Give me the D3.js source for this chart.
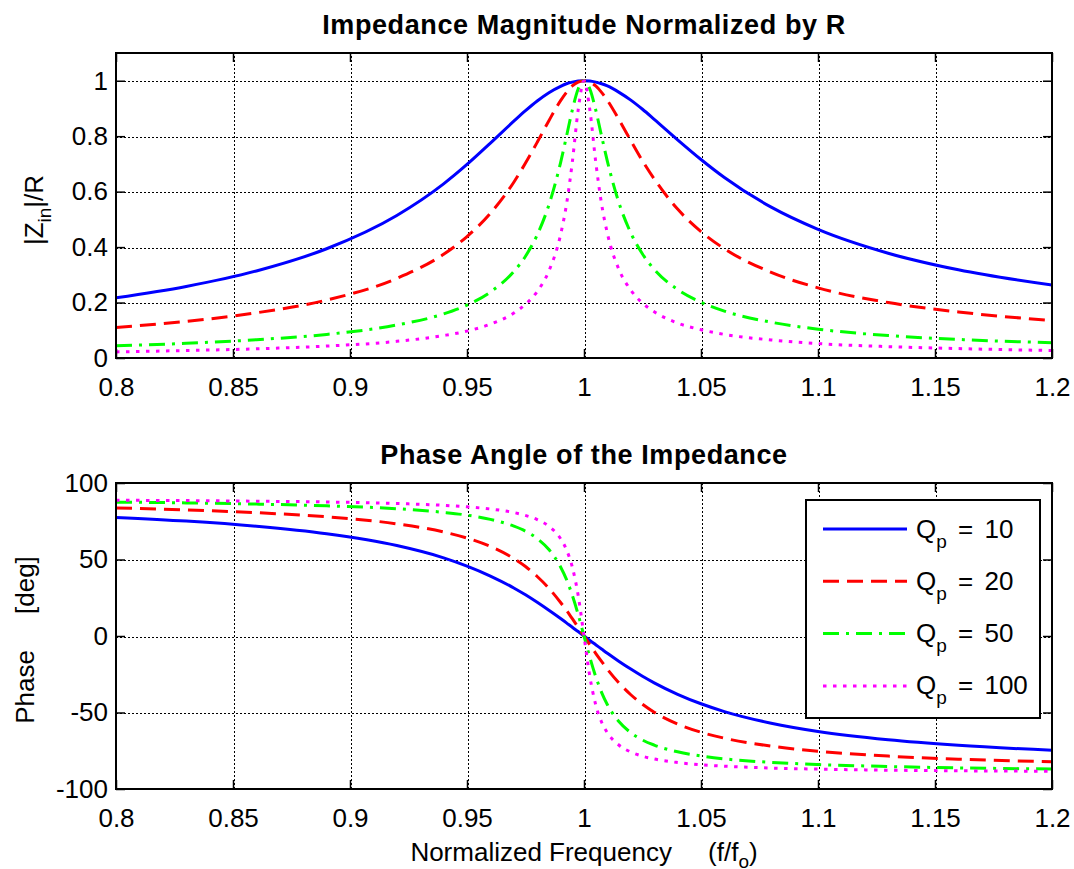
<!DOCTYPE html>
<html>
<head>
<meta charset="utf-8">
<script src="https://cdn.jsdelivr.net/npm/d3@7"></script>
<style>
  body { margin: 0; background: #fff; }
  text { font-family: "Liberation Sans", Arial, sans-serif; fill: #000; }
</style>
</head>
<body>
<div id="chart"></div>
<script>
// values
var freq = [0.80, 0.83, 0.86, 0.89, 0.92, 0.94, 0.95, 0.96, 0.97, 0.975, 0.98, 0.985, 0.99, 0.9925, 0.995, 0.9975,
            1.00, 1.0025, 1.005, 1.0075, 1.01, 1.015, 1.02, 1.025, 1.03, 1.04, 1.05, 1.06, 1.08, 1.10, 1.13, 1.16, 1.20];

var magQ10  = [0.217, 0.258, 0.314, 0.394, 0.514, 0.628, 0.698, 0.775, 0.854, 0.892, 0.927, 0.957, 0.980, 0.989, 0.995, 0.999,
               1.000, 0.999, 0.995, 0.989, 0.981, 0.958, 0.930, 0.897, 0.861, 0.787, 0.716, 0.651, 0.544, 0.464, 0.378, 0.318, 0.263];
var magQ20  = [0.110, 0.132, 0.163, 0.209, 0.287, 0.374, 0.438, 0.522, 0.634, 0.703, 0.778, 0.856, 0.928, 0.958, 0.981, 0.995,
               1.000, 0.995, 0.981, 0.958, 0.929, 0.859, 0.784, 0.711, 0.646, 0.537, 0.456, 0.394, 0.309, 0.253, 0.200, 0.166, 0.135];
var magQ50  = [0.044, 0.053, 0.066, 0.085, 0.119, 0.159, 0.191, 0.238, 0.312, 0.367, 0.444, 0.552, 0.705, 0.799, 0.894, 0.970,
               1.000, 0.970, 0.895, 0.801, 0.709, 0.558, 0.451, 0.375, 0.320, 0.247, 0.201, 0.169, 0.129, 0.104, 0.081, 0.067, 0.055];
var magQ100 = [0.022, 0.027, 0.033, 0.043, 0.060, 0.081, 0.097, 0.122, 0.162, 0.194, 0.240, 0.314, 0.445, 0.553, 0.706, 0.894,
               1.000, 0.895, 0.708, 0.556, 0.449, 0.318, 0.245, 0.198, 0.167, 0.126, 0.102, 0.085, 0.065, 0.052, 0.041, 0.034, 0.027];

var phaseQ10  = [77.5, 75.1, 71.7, 66.8, 59.1, 51.1, 45.7, 39.2, 31.4, 26.9, 22.0, 16.8, 11.4, 8.6, 5.7, 2.9,
                 0, -2.9, -5.7, -8.5, -11.3, -16.6, -21.6, -26.3, -30.6, -38.1, -44.3, -49.4, -57.0, -62.4, -67.8, -71.4, -74.7];
var phaseQ20  = [83.7, 82.4, 80.6, 77.9, 73.3, 68.0, 64.0, 58.5, 50.6, 45.4, 38.9, 31.2, 21.9, 16.8, 11.3, 5.7,
                 0, -5.7, -11.3, -16.6, -21.7, -30.8, -38.4, -44.6, -49.8, -57.5, -62.9, -66.8, -72.0, -75.3, -78.5, -80.5, -82.2];
var phaseQ50  = [87.5, 87.0, 86.2, 85.1, 83.2, 80.8, 79.0, 76.2, 71.8, 68.5, 63.7, 56.5, 45.1, 37.0, 26.6, 14.1,
                 0, -14.0, -26.5, -36.8, -44.9, -56.1, -63.2, -68.0, -71.3, -75.7, -78.4, -80.3, -82.6, -84.0, -85.3, -86.2, -86.9];
var phaseQ100 = [88.7, 88.5, 88.1, 87.6, 86.6, 85.4, 84.4, 83.0, 80.7, 78.8, 76.1, 71.7, 63.6, 56.4, 45.1, 26.6,
                 0, -26.5, -44.9, -56.2, -63.3, -71.4, -75.8, -78.6, -80.4, -82.7, -84.2, -85.1, -86.3, -87.0, -87.7, -88.1, -88.4];

var qValues = [10, 20, 50, 100];
var xTicks = [0.8, 0.85, 0.9, 0.95, 1, 1.05, 1.1, 1.15, 1.2];
var magTicks = [0, 0.2, 0.4, 0.6, 0.8, 1];
var phaseTicks = [-100, -50, 0, 50, 100];

var colors = ["#0000ff", "#ff0000", "#00ff00", "#ff00ff"];
var dashes = [null, "16,8", "16,7,3,7", "3.5,6.5"];

var W = 1074, H = 869;
var left = 116, right = 1052;
var fontSize = 26;

var svg = d3.select("#chart").append("svg")
    .attr("width", W)
    .attr("height", H)
    .style("background", "#fff");

var x = d3.scaleLinear().domain([0.8, 1.2]).range([left, right]);

function panel(top, bottom, yDomain, yTicks, title, series, id) {
  var y = d3.scaleLinear().domain(yDomain).range([bottom, top]);
  var h = bottom - top;
  var g = svg.append("g");

  function gridStyle(a) {
    a.select(".domain").remove();
    a.selectAll("line")
      .attr("stroke", "#000")
      .attr("stroke-width", 1)
      .attr("stroke-dasharray", "2,2")
      .attr("shape-rendering", "crispEdges");
  }

  // grid
  g.append("g")
      .attr("transform", "translate(0.5," + bottom + ")")
      .call(d3.axisBottom(x).tickValues(xTicks.slice(1, -1)).tickSizeInner(-h).tickSizeOuter(0).tickFormat(""))
      .call(gridStyle);
  g.append("g")
      .attr("transform", "translate(" + left + ",0.5)")
      .call(d3.axisLeft(y).tickValues(yTicks.filter(function(d) { return d > yDomain[0] && d < yDomain[1]; }))
        .tickSizeInner(-(right - left)).tickSizeOuter(0).tickFormat(""))
      .call(gridStyle);

  // lines
  g.append("clipPath").attr("id", id)
    .append("rect").attr("x", left).attr("y", top).attr("width", right - left).attr("height", h);

  var line = d3.line()
      .x(function(d, i) { return x(freq[i]); })
      .y(function(d) { return y(d); })
      .curve(d3.curveMonotoneX);

  g.append("g").attr("clip-path", "url(#" + id + ")")
    .selectAll("path")
    .data(series)
    .enter()
    .append("path")
      .attr("d", line)
      .attr("fill", "none")
      .attr("stroke", function(d, i) { return colors[i]; })
      .attr("stroke-width", 3)
      .attr("stroke-dasharray", function(d, i) { return dashes[i]; });

  // axes
  function styleAxis(a) {
    a.select(".domain").remove();
    a.selectAll("line").attr("stroke", "#000").attr("stroke-width", 1.5);
    a.selectAll("text").attr("font-size", fontSize).attr("font-family", "Liberation Sans, Arial, sans-serif").attr("fill", "#000");
  }
  g.append("g")
      .attr("transform", "translate(0," + bottom + ")")
      .call(d3.axisBottom(x).tickValues(xTicks).tickSizeInner(-9).tickSizeOuter(0).tickPadding(20)
        .tickFormat(function(d) { return String(d); }))
      .call(styleAxis);
  g.append("g")
      .attr("transform", "translate(0," + top + ")")
      .call(d3.axisTop(x).tickValues(xTicks).tickSizeInner(-9).tickSizeOuter(0).tickFormat(""))
      .call(styleAxis);
  g.append("g")
      .attr("transform", "translate(" + left + ",0)")
      .call(d3.axisLeft(y).tickValues(yTicks).tickSizeInner(-9).tickSizeOuter(0).tickPadding(8)
        .tickFormat(function(d) { return String(d); }))
      .call(styleAxis);
  g.append("g")
      .attr("transform", "translate(" + right + ",0)")
      .call(d3.axisRight(y).tickValues(yTicks).tickSizeInner(-9).tickSizeOuter(0).tickFormat(""))
      .call(styleAxis);

  g.append("rect")
      .attr("x", left).attr("y", top)
      .attr("width", right - left).attr("height", h)
      .attr("fill", "none").attr("stroke", "#000").attr("stroke-width", 2);

  g.append("text")
      .attr("x", (left + right) / 2)
      .attr("y", top - 19)
      .attr("text-anchor", "middle")
      .attr("font-size", 27)
      .attr("font-weight", "bold")
      .attr("letter-spacing", 0.6)
      .text(title);

  return y;
}

panel(53, 358, [0, 1.1], magTicks, "Impedance Magnitude Normalized by R",
      [magQ10, magQ20, magQ50, magQ100], "clipTop");
panel(483, 789, [-100, 100], phaseTicks, "Phase Angle of the Impedance",
      [phaseQ10, phaseQ20, phaseQ50, phaseQ100], "clipBottom");

// y labels
var yl1 = svg.append("text")
    .attr("transform", "translate(43,210) rotate(-90)")
    .attr("text-anchor", "middle")
    .attr("font-size", fontSize);
yl1.append("tspan").text("|Z");
yl1.append("tspan").attr("font-size", 19).attr("dy", 8).text("in");
yl1.append("tspan").attr("dy", -8).text("|/R");

svg.append("text")
    .attr("transform", "translate(34,640) rotate(-90)")
    .attr("text-anchor", "middle")
    .attr("font-size", fontSize)
    .text("Phase\u00a0\u00a0\u00a0\u00a0\u00a0[deg]");

// x label
var xl = svg.append("text")
    .attr("x", (left + right) / 2)
    .attr("y", 861)
    .attr("text-anchor", "middle")
    .attr("font-size", fontSize);
xl.append("tspan").text("Normalized Frequency\u00a0\u00a0\u00a0\u00a0\u00a0(f/f");
xl.append("tspan").attr("font-size", 19).attr("dy", 7).text("o");
xl.append("tspan").attr("dy", -7).text(")");

// legend
var lg = svg.append("g");
lg.append("rect")
    .attr("x", 806).attr("y", 500).attr("width", 234).attr("height", 218)
    .attr("fill", "#fff").attr("stroke", "#000").attr("stroke-width", 2);
var rows = lg.selectAll("g.row")
    .data(qValues)
    .enter().append("g")
    .attr("class", "row")
    .attr("transform", function(d, i) { return "translate(0," + (529 + i * 52.3) + ")"; });
rows.append("line")
    .attr("x1", 823).attr("x2", 907)
    .attr("stroke", function(d, i) { return colors[i]; })
    .attr("stroke-width", 3)
    .attr("stroke-dasharray", function(d, i) { return dashes[i]; });
var lt = rows.append("text")
    .attr("x", 916).attr("y", 8.5)
    .attr("font-size", fontSize);
lt.append("tspan").text("Q");
lt.append("tspan").attr("font-size", 19).attr("dy", 10).text("p");
lt.append("tspan").attr("dy", -10).attr("word-spacing", 4).text(function(d) { return " = " + d; });
</script>
</body>
</html>
